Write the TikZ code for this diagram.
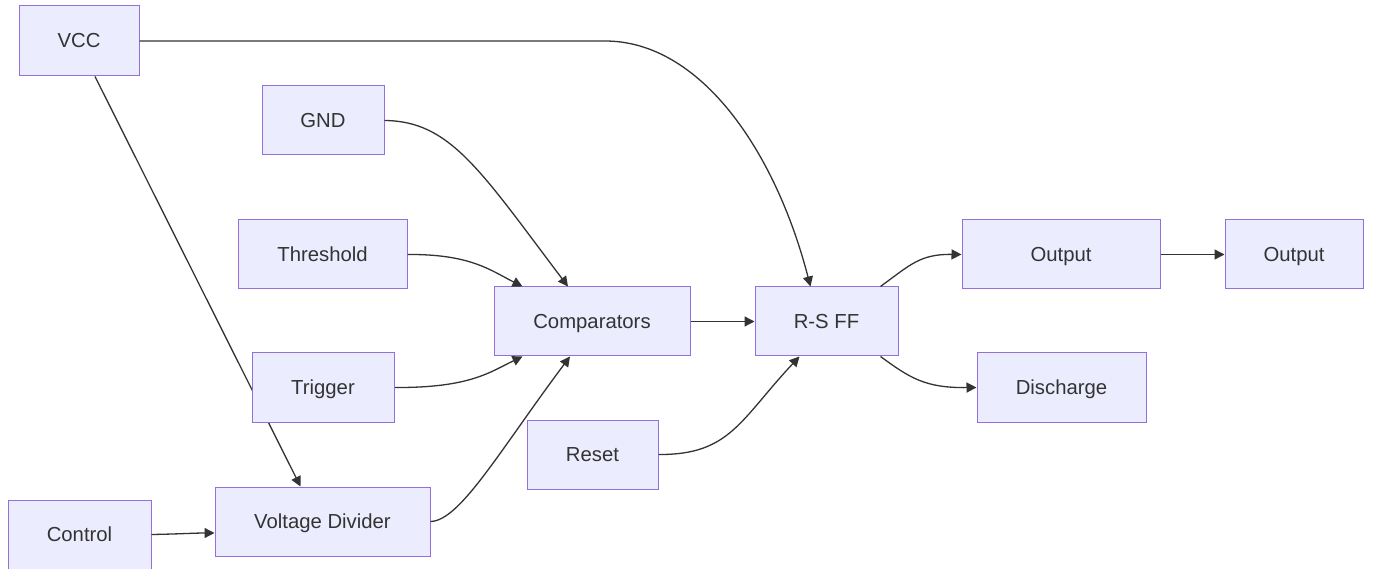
\documentclass[tikz,border=0pt]{standalone}
\usepackage{fontspec}
\setmainfont{Liberation Sans}
\usetikzlibrary{arrows.meta,calc}
\definecolor{boxfill}{HTML}{ECECFF}
\definecolor{boxline}{HTML}{9370DB}
\definecolor{edgeline}{HTML}{333333}
\definecolor{labeltext}{HTML}{333333}
\tikzset{
  block/.style={draw=boxline, fill=boxfill, line width=1pt, inner sep=0pt,
    text=labeltext, font=\fontsize{20.3}{24}\selectfont,
    text height=14.5pt, text depth=0.5pt},
  flow/.style={draw=edgeline, line width=1.3pt,
    -{Triangle[length=10pt,width=10pt]}}
}
\begin{document}
\begin{tikzpicture}[x=1pt,y=-1pt]
\useasboundingbox (0,0) rectangle (1374,569);

% blocks
\node[block, minimum width=120pt, minimum height=70pt] (vcc)   at (79,41) {VCC};
\node[block, minimum width=122pt, minimum height=69pt] (gnd)   at (323,120.5) {GND};
\node[block, minimum width=169pt, minimum height=69pt] (thr)   at (322.5,254.5) {Threshold};
\node[block, minimum width=142pt, minimum height=69pt] (trig)  at (323,387.5) {Trigger};
\node[block, minimum width=196pt, minimum height=69pt] (comp)  at (592,321.5) {Comparators};
\node[block, minimum width=131pt, minimum height=69pt] (reset) at (592.5,454.5) {Reset};
\node[block, minimum width=143pt, minimum height=69pt] (ctrl)  at (79.5,534.5) {Control};
\node[block, minimum width=215pt, minimum height=69pt] (vdiv)  at (322.5,521.5) {Voltage Divider};
\node[block, minimum width=143pt, minimum height=69pt] (rsff)  at (826.5,321.5) {R-S FF};
\node[block, minimum width=198pt, minimum height=69pt] (out1)  at (1061,254.5) {Output};
\node[block, minimum width=169pt, minimum height=69pt] (dis)   at (1061.5,387.5) {Discharge};
\node[block, minimum width=138pt, minimum height=69pt] (out2)  at (1294,254.5) {Output};

% connectors
\draw[flow] (vcc.east) -- (605,41) coordinate (vccbend)
  .. controls (700,41) and (775,150) .. ($(rsff.north)+(-16,0)$);
\draw[flow] ($(vcc.south)+(16,0)$) -- ($(vdiv.north)+(-22,0)$);
\draw[flow] (gnd.east) .. controls (450,121) and (480,170) .. ($(comp.north)+(-24,0)$);
\draw[flow] (thr.east) .. controls (470,254) and (490,270) .. ($(comp.north west)+(29,0)$);
\draw[flow] (trig.east) .. controls (470,388) and (490,372) .. ($(comp.south west)+(29,0)$);
\draw[flow] (vdiv.east) .. controls (460,521) and (500,450) .. ($(comp.south)+(-22,0)$);
\draw[flow] (comp.east) -- (rsff.west);
\draw[flow] (reset.east) .. controls (730,455) and (740,420) .. ($(rsff.south)+(-27,0)$);
\draw[flow] ($(rsff.north east)+(-18,0)$) .. controls (910,265) and (920,254) .. (out1.west);
\draw[flow] ($(rsff.south east)+(-18,0)$) .. controls (910,378) and (925,388) .. (dis.west);
\draw[flow] (out1.east) -- (out2.west);
\draw[flow] (ctrl.east) .. controls (180,534) and (195,533) .. ($(vdiv.west)+(0,11.5)$);

% the Trigger block sits over the VCC connector
\node[block, minimum width=142pt, minimum height=69pt] at (trig) {Trigger};
\end{tikzpicture}
\end{document}
